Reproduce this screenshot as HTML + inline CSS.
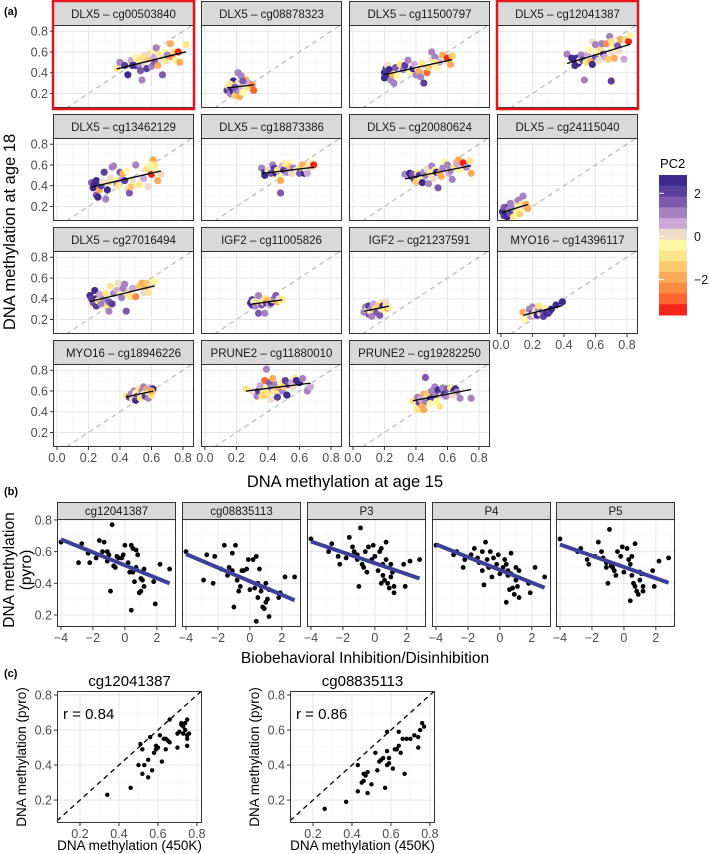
<!DOCTYPE html>
<html><head><meta charset="utf-8">
<style>
html,body{margin:0;padding:0;background:#fff;}
svg{display:block;font-family:"Liberation Sans",Arial,sans-serif;}
</style></head>
<body>
<svg id="fig" width="709" height="854" viewBox="0 0 709 854" xmlns="http://www.w3.org/2000/svg">
<text x="4" y="15" font-size="11" font-weight="bold">(a)</text>
<text x="4" y="495" font-size="11" font-weight="bold">(b)</text>
<text x="4" y="677" font-size="11" font-weight="bold">(c)</text>
<text transform="translate(15,232) rotate(-90)" text-anchor="middle" font-size="16.5" fill="#000">DNA methylation at age 18</text>
<text x="345" y="487" text-anchor="middle" font-size="16.5">DNA methylation at age 15</text>
<text transform="translate(14,570) rotate(-90)" text-anchor="middle" font-size="15.5">DNA methylation</text>
<text transform="translate(31,570) rotate(-90)" text-anchor="middle" font-size="15.5">(pyro)</text>
<text x="365" y="663" text-anchor="middle" font-size="15.5">Biobehavioral Inhibition/Disinhibition</text>
<text x="660" y="168" font-size="13">PC2</text>
</svg>
<script>
// ---------- Panel (a) data ----------
const aTitles = ["DLX5 – cg00503840","DLX5 – cg08878323","DLX5 – cg11500797","DLX5 – cg12041387","DLX5 – cg13462129","DLX5 – cg18873386","DLX5 – cg20080624","DLX5 – cg24115040","DLX5 – cg27016494","IGF2 – cg11005826","IGF2 – cg21237591","MYO16 – cg14396117","MYO16 – cg18946226","PRUNE2 – cg11880010","PRUNE2 – cg19282250"];
const aHighlighted = [true,false,false,true,false,false,false,false,false,false,false,false,false,false,false];
const aPoints = [
[[0.38,0.44,-1],[0.40,0.50,1],[0.43,0.47,2],[0.45,0.38,2.5],[0.47,0.52,0.5],[0.48,0.47,2.5],[0.50,0.47,2.5],[0.50,0.55,-0.5],[0.52,0.48,1],[0.53,0.42,1.5],[0.54,0.33,1],[0.55,0.56,-1],[0.55,0.50,0],[0.57,0.44,2],[0.58,0.53,-1.5],[0.60,0.60,-0.5],[0.60,0.46,1],[0.61,0.55,0.5],[0.62,0.50,1.5],[0.63,0.64,1],[0.64,0.47,-2],[0.65,0.58,-1],[0.66,0.54,0],[0.67,0.38,1.5],[0.68,0.60,-0.5],[0.69,0.52,-1],[0.70,0.57,1],[0.72,0.68,-2],[0.73,0.55,-2.5],[0.74,0.60,-1],[0.75,0.52,-0.5],[0.77,0.60,-4],[0.78,0.50,-2],[0.82,0.67,-1],[0.58,0.58,0],[0.52,0.52,-1]],
[[0.14,0.23,2],[0.15,0.27,0],[0.16,0.20,1],[0.17,0.25,2.5],[0.18,0.22,2.5],[0.18,0.32,2.5],[0.19,0.18,-1.5],[0.20,0.28,-1],[0.20,0.23,1],[0.21,0.30,0],[0.21,0.40,1],[0.22,0.17,-2],[0.22,0.25,0.5],[0.23,0.37,1],[0.24,0.21,-0.5],[0.25,0.28,0],[0.26,0.33,-2],[0.27,0.26,-1],[0.28,0.30,0.5],[0.29,0.25,-1],[0.30,0.28,-2.5],[0.31,0.23,-3],[0.16,0.29,-1],[0.19,0.26,1.5],[0.24,0.32,1.5]],
[[0.20,0.40,2.5],[0.20,0.35,2.5],[0.21,0.44,2],[0.22,0.38,2.5],[0.22,0.47,0],[0.23,0.43,2.5],[0.24,0.33,1],[0.25,0.38,-2],[0.26,0.30,1],[0.27,0.45,1.5],[0.28,0.37,-0.5],[0.30,0.48,-1],[0.32,0.43,1],[0.33,0.47,2],[0.35,0.52,1],[0.36,0.41,-0.5],[0.38,0.44,2.5],[0.39,0.48,0.5],[0.40,0.38,1],[0.41,0.44,0],[0.42,0.41,-2],[0.43,0.36,1],[0.44,0.49,-1],[0.45,0.30,2],[0.47,0.40,-3],[0.48,0.45,-1.5],[0.50,0.52,0],[0.50,0.60,1],[0.52,0.55,1],[0.53,0.45,-0.5],[0.55,0.50,0.5],[0.57,0.57,-2],[0.59,0.52,0],[0.60,0.54,-4],[0.62,0.48,-2],[0.63,0.56,-1.5],[0.52,0.50,-1]],
[[0.42,0.58,1],[0.45,0.54,2.5],[0.47,0.47,2.5],[0.48,0.54,2.5],[0.49,0.49,2.5],[0.50,0.52,0],[0.51,0.57,1],[0.52,0.52,2],[0.53,0.33,1],[0.54,0.50,-1],[0.55,0.58,0.5],[0.56,0.62,-0.5],[0.57,0.51,-2],[0.58,0.48,2.5],[0.58,0.70,0],[0.60,0.67,1],[0.60,0.55,1.5],[0.61,0.60,-0.5],[0.62,0.52,0],[0.63,0.62,-1],[0.64,0.68,1],[0.65,0.58,1.5],[0.66,0.55,0.5],[0.67,0.68,-2.5],[0.68,0.53,-1.5],[0.69,0.75,1],[0.70,0.60,0],[0.70,0.32,2],[0.71,0.64,-0.5],[0.72,0.54,-2],[0.74,0.66,1.5],[0.75,0.61,0],[0.76,0.72,-2],[0.78,0.53,0.5],[0.79,0.72,-1],[0.81,0.70,-4],[0.82,0.76,-0.5],[0.70,0.70,-1]],
[[0.22,0.43,1.5],[0.23,0.38,2.5],[0.24,0.42,2.5],[0.25,0.45,2.5],[0.25,0.31,1.5],[0.26,0.29,2.5],[0.27,0.36,-2],[0.28,0.40,2],[0.29,0.44,0],[0.30,0.53,2],[0.31,0.27,1],[0.32,0.36,2.5],[0.33,0.43,-1],[0.34,0.47,0],[0.35,0.58,1],[0.36,0.59,1],[0.37,0.45,-0.5],[0.38,0.42,1],[0.39,0.40,-1],[0.40,0.53,1.5],[0.41,0.46,0.5],[0.42,0.52,-2],[0.43,0.45,2],[0.44,0.54,-0.5],[0.45,0.36,0],[0.46,0.33,1.5],[0.47,0.39,-1.5],[0.48,0.46,0],[0.50,0.60,1],[0.52,0.41,-1],[0.55,0.47,0.5],[0.57,0.56,-1],[0.58,0.39,0],[0.60,0.51,-4],[0.61,0.65,-2],[0.62,0.60,-1],[0.63,0.54,-0.5],[0.64,0.45,-2],[0.66,0.51,0],[0.59,0.60,-0.5]],
[[0.36,0.57,1],[0.38,0.53,2.5],[0.38,0.50,2.5],[0.40,0.55,0],[0.42,0.52,1.5],[0.43,0.60,1],[0.44,0.57,2],[0.45,0.52,2.5],[0.46,0.55,-1],[0.47,0.48,-0.5],[0.48,0.45,-2],[0.48,0.33,1.5],[0.49,0.59,0.5],[0.50,0.55,2],[0.51,0.61,-1],[0.52,0.53,1],[0.53,0.62,-0.5],[0.54,0.58,-1.5],[0.55,0.52,0],[0.56,0.57,1],[0.58,0.55,-0.5],[0.60,0.52,1.5],[0.61,0.58,-1],[0.62,0.60,-2],[0.63,0.52,2.5],[0.64,0.56,-0.5],[0.66,0.60,-1],[0.67,0.58,0],[0.68,0.62,-0.5],[0.69,0.60,-4],[0.65,0.52,0.5]],
[[0.33,0.51,1],[0.36,0.52,2.5],[0.37,0.49,2.5],[0.38,0.51,1.5],[0.39,0.46,2],[0.40,0.44,-1.5],[0.41,0.52,-1],[0.42,0.50,2],[0.43,0.46,-0.5],[0.44,0.43,2.5],[0.45,0.53,1],[0.46,0.50,1],[0.47,0.56,0],[0.48,0.42,1],[0.49,0.52,-1],[0.50,0.59,1],[0.51,0.47,0],[0.52,0.55,-0.5],[0.53,0.53,2.5],[0.54,0.38,1.5],[0.55,0.52,-2],[0.56,0.49,-2],[0.57,0.57,1],[0.58,0.63,-0.5],[0.60,0.60,1],[0.61,0.52,0.5],[0.62,0.55,1],[0.63,0.46,1],[0.64,0.58,-1],[0.66,0.61,0.5],[0.67,0.65,-2],[0.68,0.55,-0.5],[0.70,0.62,-4],[0.72,0.58,1],[0.74,0.64,-1],[0.75,0.52,-2]],
[[0.01,0.15,2.5],[0.02,0.11,2],[0.02,0.19,1.5],[0.03,0.14,2.5],[0.04,0.10,2.5],[0.05,0.20,2],[0.05,0.17,1],[0.06,0.13,1.5],[0.07,0.22,-1],[0.07,0.15,2],[0.08,0.10,-1],[0.08,0.18,1],[0.09,0.24,0],[0.10,0.15,-1],[0.10,0.12,-0.5],[0.11,0.20,-0.5],[0.11,0.26,1],[0.12,0.13,-1.5],[0.13,0.18,-0.5],[0.13,0.22,-1],[0.14,0.30,1],[0.15,0.20,0],[0.16,0.22,-2],[0.17,0.18,-2],[0.06,0.23,1]],
[[0.21,0.43,2.5],[0.22,0.40,2],[0.23,0.36,1.5],[0.24,0.48,2.5],[0.25,0.40,2.5],[0.25,0.33,2],[0.26,0.38,-1],[0.27,0.44,0.5],[0.28,0.35,1],[0.30,0.40,1],[0.31,0.45,-1],[0.32,0.32,-1],[0.33,0.28,1],[0.33,0.37,1.5],[0.34,0.52,-1],[0.35,0.35,2],[0.36,0.45,1],[0.38,0.48,0.5],[0.39,0.55,0],[0.40,0.44,-0.5],[0.41,0.41,1],[0.42,0.50,1],[0.43,0.54,1],[0.44,0.28,1.5],[0.45,0.45,-1],[0.46,0.47,0],[0.47,0.42,-1],[0.48,0.50,0.5],[0.50,0.42,-2.5],[0.52,0.52,-1.5],[0.54,0.55,-2],[0.56,0.50,-2],[0.57,0.55,-1.5],[0.58,0.46,-1],[0.60,0.53,0],[0.62,0.57,-0.5],[0.55,0.46,0]],
[[0.29,0.36,2.5],[0.30,0.34,2.5],[0.30,0.39,2],[0.31,0.37,-0.5],[0.32,0.33,1],[0.33,0.38,0],[0.34,0.26,1.5],[0.34,0.43,1],[0.35,0.36,-1],[0.36,0.34,1.5],[0.37,0.37,-0.5],[0.38,0.26,1],[0.38,0.40,-1],[0.39,0.36,2],[0.40,0.38,-2],[0.41,0.34,0.5],[0.42,0.36,2.5],[0.43,0.39,-1],[0.44,0.40,1],[0.45,0.43,1.5],[0.46,0.37,-2],[0.47,0.40,0],[0.48,0.38,-0.5],[0.49,0.39,-1]],
[[0.07,0.27,1],[0.08,0.32,1],[0.09,0.29,0],[0.10,0.33,2],[0.10,0.25,1.5],[0.11,0.28,-0.5],[0.12,0.31,1],[0.12,0.23,1],[0.13,0.35,0.5],[0.14,0.30,-1],[0.15,0.27,1.5],[0.16,0.33,-1.5],[0.17,0.24,1.5],[0.18,0.30,0],[0.19,0.36,-1],[0.19,0.33,2.5],[0.20,0.29,-0.5],[0.21,0.34,-1],[0.22,0.31,-2],[0.23,0.32,-0.5],[0.21,0.37,0]],
[[0.14,0.27,-2],[0.15,0.22,-1],[0.15,0.20,-0.5],[0.17,0.26,0],[0.18,0.30,1],[0.19,0.23,0.5],[0.20,0.27,1.5],[0.20,0.32,1],[0.21,0.25,-0.5],[0.22,0.29,0],[0.23,0.24,2.5],[0.24,0.30,1],[0.25,0.26,0],[0.26,0.29,1.5],[0.27,0.23,2],[0.28,0.31,-0.5],[0.29,0.27,2.5],[0.30,0.26,2.5],[0.31,0.28,2],[0.32,0.30,2.5],[0.35,0.34,2.5],[0.39,0.37,2.5],[0.24,0.33,-1]],
[[0.44,0.55,-1],[0.46,0.54,2],[0.47,0.57,1],[0.48,0.52,0],[0.49,0.60,1],[0.50,0.51,2.5],[0.50,0.58,-0.5],[0.51,0.55,1.5],[0.52,0.62,-1],[0.53,0.56,0],[0.53,0.53,-1],[0.54,0.60,1],[0.55,0.57,-0.5],[0.55,0.64,1],[0.56,0.55,2],[0.57,0.62,-2],[0.58,0.58,0],[0.58,0.53,1],[0.59,0.63,0.5],[0.60,0.56,-1],[0.61,0.62,2.5],[0.60,0.60,-2]],
[[0.26,0.62,-1],[0.30,0.60,0],[0.33,0.55,1],[0.34,0.60,2],[0.35,0.65,0.5],[0.36,0.55,-1],[0.37,0.59,-1],[0.38,0.56,-1.5],[0.38,0.70,-3],[0.39,0.81,1],[0.39,0.62,-0.5],[0.40,0.58,-1],[0.41,0.68,1.5],[0.42,0.52,0],[0.42,0.63,1],[0.43,0.72,-2],[0.44,0.60,-1],[0.45,0.66,1],[0.46,0.54,2],[0.47,0.63,-2],[0.48,0.68,-0.5],[0.49,0.60,1],[0.50,0.64,-1.5],[0.51,0.70,2],[0.52,0.56,2.5],[0.53,0.66,1.5],[0.55,0.68,0.5],[0.57,0.72,-1],[0.58,0.70,2.5],[0.60,0.68,2.5],[0.62,0.72,1],[0.65,0.60,1],[0.67,0.64,0.5],[0.56,0.64,0]],
[[0.38,0.50,-1],[0.40,0.46,-0.5],[0.41,0.42,-1],[0.41,0.54,1],[0.42,0.49,2],[0.43,0.52,0.5],[0.44,0.46,-2],[0.45,0.42,-2],[0.45,0.57,-2],[0.46,0.50,1],[0.46,0.73,1.5],[0.47,0.55,0],[0.48,0.58,-1.5],[0.49,0.52,2.5],[0.49,0.48,-0.5],[0.50,0.60,1],[0.51,0.54,2],[0.52,0.58,1],[0.52,0.64,1],[0.53,0.50,-0.5],[0.54,0.61,2.5],[0.55,0.56,1.5],[0.55,0.45,-1],[0.56,0.55,0],[0.57,0.63,1],[0.58,0.57,2.5],[0.59,0.55,1],[0.60,0.62,1.5],[0.62,0.63,-1],[0.64,0.60,2.5],[0.65,0.62,2.5],[0.66,0.59,1],[0.68,0.53,1],[0.75,0.53,1],[0.63,0.56,0]]
];
const aTicks = [0.0,0.2,0.4,0.6,0.8];
const aTickLabels = ["0.0","0.2","0.4","0.6","0.8"];
const aYTicks = [0.2,0.4,0.6,0.8];
const aYTickLabels = ["0.2","0.4","0.6","0.8"];
const legendBreaks = [2,0,-2];
const legendLabels = ["2","0","−2"];
const legendSteps = [2.6,2.1,1.6,1.1,0.6,0.1,-0.4,-0.9,-1.4,-1.9,-2.4,-2.9,-3.4];

// ---------- Panel (b) data ----------
const bTitles = ["cg12041387","cg08835113","P3","P4","P5"];
const bX = [-4,-2.9,-2.7,-2.3,-2.2,-1.8,-1.6,-1.4,-1.3,-1.1,-1.1,-1.0,-0.9,-0.8,-0.7,-0.6,-0.5,-0.4,-0.2,-0.1,0.0,0.2,0.3,0.4,0.4,0.5,0.5,0.6,0.7,0.7,0.8,0.9,1.0,1.0,1.1,1.2,1.2,1.8,1.9,2.2,2.8];
const bY1 = [0.66,0.53,0.65,0.59,0.53,0.56,0.67,0.60,0.66,0.60,0.54,0.58,0.35,0.77,0.51,0.50,0.57,0.56,0.56,0.58,0.64,0.53,0.47,0.64,0.23,0.62,0.47,0.41,0.50,0.61,0.58,0.34,0.35,0.43,0.42,0.49,0.38,0.41,0.27,0.52,0.49];
const bY2 = [0.60,0.42,0.58,0.40,0.57,0.49,0.64,0.45,0.50,0.59,0.48,0.25,0.64,0.42,0.35,0.38,0.48,0.48,0.49,0.55,0.36,0.55,0.37,0.57,0.16,0.40,0.31,0.49,0.38,0.35,0.25,0.24,0.28,0.40,0.30,0.36,0.19,0.31,0.34,0.44,0.44];
const bY3 = [0.68,0.60,0.65,0.57,0.52,0.56,0.69,0.63,0.60,0.58,0.55,0.38,0.75,0.52,0.50,0.60,0.47,0.63,0.55,0.64,0.57,0.48,0.60,0.62,0.40,0.52,0.45,0.42,0.66,0.55,0.40,0.37,0.44,0.52,0.47,0.34,0.38,0.52,0.38,0.54,0.55];
const bY4 = [0.64,0.58,0.60,0.50,0.55,0.58,0.62,0.56,0.53,0.60,0.48,0.39,0.66,0.55,0.50,0.60,0.44,0.56,0.52,0.58,0.46,0.50,0.55,0.52,0.28,0.48,0.45,0.36,0.59,0.46,0.37,0.33,0.42,0.50,0.38,0.48,0.31,0.40,0.34,0.50,0.44];
const bY5 = [0.68,0.60,0.62,0.55,0.52,0.57,0.66,0.60,0.56,0.50,0.53,0.40,0.74,0.51,0.50,0.48,0.45,0.60,0.57,0.63,0.47,0.62,0.55,0.52,0.29,0.45,0.57,0.40,0.65,0.38,0.35,0.33,0.42,0.47,0.46,0.35,0.38,0.48,0.38,0.54,0.56];
const bXTicks = [-4,-2,0,2];
const bXTickLabels = ["−4","−2","0","2"];
const bYTicks = [0.2,0.4,0.6,0.8];
const bYTickLabels = ["0.2","0.4","0.6","0.8"];

// ---------- Panel (c) data ----------
const cTitles = ["cg12041387","cg08835113"];
const cRLabels = ["r = 0.84","r = 0.86"];
const cX1 = [0.34,0.46,0.50,0.51,0.52,0.52,0.53,0.55,0.55,0.56,0.57,0.58,0.59,0.59,0.60,0.61,0.62,0.63,0.64,0.64,0.65,0.66,0.66,0.70,0.70,0.71,0.72,0.72,0.73,0.73,0.74,0.74,0.75,0.75,0.75,0.76,0.75];
const cY1 = [0.23,0.27,0.40,0.52,0.49,0.35,0.40,0.43,0.33,0.56,0.37,0.47,0.51,0.49,0.50,0.57,0.42,0.55,0.49,0.55,0.54,0.66,0.53,0.58,0.50,0.59,0.63,0.64,0.58,0.62,0.64,0.60,0.66,0.57,0.51,0.58,0.55];
const cX2 = [0.26,0.37,0.43,0.43,0.45,0.46,0.46,0.47,0.48,0.48,0.50,0.52,0.53,0.54,0.55,0.56,0.57,0.58,0.58,0.58,0.59,0.59,0.61,0.62,0.63,0.64,0.64,0.65,0.66,0.67,0.68,0.70,0.72,0.74,0.74,0.75,0.76,0.77];
const cY2 = [0.15,0.19,0.25,0.40,0.30,0.35,0.31,0.34,0.24,0.36,0.29,0.47,0.37,0.42,0.43,0.44,0.27,0.40,0.48,0.59,0.41,0.44,0.38,0.49,0.49,0.59,0.51,0.47,0.55,0.35,0.55,0.55,0.57,0.56,0.50,0.60,0.64,0.62];
const cTicks = [0.2,0.4,0.6,0.8];
const cTickLabels = ["0.2","0.4","0.6","0.8"];

const svg = document.getElementById('fig');
const NS = "http://www.w3.org/2000/svg";
function mk(tag, attrs){ const e=document.createElementNS(NS,tag); for(const k in attrs) e.setAttribute(k,attrs[k]); svg.appendChild(e); return e; }
function pcColor(v){
  const cols=["#3f2b8e","#5a3f9c","#7d5aab","#a483c0","#cca8d6","#ecdcc8","#fff6a6","#fde58c","#fdcb6e","#fdab58","#fc8a44","#fb6630","#f8251a"];
  const th=[2.25,1.75,1.25,0.75,0.25,-0.25,-0.75,-1.25,-1.75,-2.25,-2.75,-3.25];
  for(let i=0;i<th.length;i++) if(v>=th[i]) return cols[i];
  return cols[12];
}
function fit(xs,ys){ const n=xs.length; let mx=0,my=0; for(let i=0;i<n;i++){mx+=xs[i];my+=ys[i];} mx/=n;my/=n; let sxy=0,sxx=0; for(let i=0;i<n;i++){sxy+=(xs[i]-mx)*(ys[i]-my);sxx+=(xs[i]-mx)**2;} const b=sxy/sxx; return [my-b*mx,b]; }

// ---------- draw (a) ----------
const aCols=[53,201,349,497], aRows=[1,114,227,340], aW=141, aStripH=24, aPlotH=83;
const aXmin=-0.025, aXmax=0.87, aYmin=0.06, aYmax=0.86;
aTitles.forEach((title,i)=>{
  const col=i%4,row=Math.floor(i/4);
  const L=aCols[col], T=aRows[row], PT=T+aStripH, PB=PT+aPlotH;
  const xs=v=>L+(v-aXmin)/(aXmax-aXmin)*aW;
  const ys=v=>PB-(v-aYmin)/(aYmax-aYmin)*aPlotH;
  const bg=mk('rect',{x:L,y:PT,width:aW,height:aPlotH,fill:'#fff'});
  
  
  for(let g=0.1;g<0.86;g+=0.1){
    const major=Math.abs(g*10%2)<0.01||Math.abs(g*10%2-2)<0.01;
    const vx=mk('line',{x1:xs(g),x2:xs(g),y1:PT,y2:PB,stroke:major?'#e6e6e6':'#f3f3f3','stroke-width':major?1:0.6});
    
    
    if(g>aYmin && g<aYmax){
      const hy=mk('line',{x1:L,x2:L+aW,y1:ys(g),y2:ys(g),stroke:major?'#e6e6e6':'#f3f3f3','stroke-width':major?1:0.6});
      
      
    }
  }
  const vx0=mk('line',{x1:xs(0),x2:xs(0),y1:PT,y2:PB,stroke:'#e6e6e6','stroke-width':1});
  
  
  const diag=mk('line',{x1:xs(aYmin),y1:ys(aYmin),x2:xs(aYmax),y2:ys(aYmax),stroke:'#b3b3b3','stroke-width':1.1,'stroke-dasharray':'5,4'});
  
  
  const pts=aPoints[i];
  pts.forEach(p=>{
    const c=mk('circle',{cx:xs(p[0]),cy:ys(p[1]),r:3.6,fill:pcColor(p[2])});
    
    
  });
  const px=pts.map(p=>p[0]), py=pts.map(p=>p[1]);
  const [a,b]=fit(px,py); const x0=Math.min(...px), x1=Math.max(...px);
  const ln=mk('line',{x1:xs(x0),y1:ys(a+b*x0),x2:xs(x1),y2:ys(a+b*x1),stroke:'#000','stroke-width':1.3});
  
  
  const strip=mk('rect',{x:L+0.5,y:T+0.5,width:aW-1,height:aStripH,fill:'#d9d9d9',stroke:'#333','stroke-width':1});
  
  
  const st=mk('text',{x:L+aW/2,y:T+17,'text-anchor':'middle','font-size':11.5,fill:'#1a1a1a'});
  st.textContent=title;
  
  
  const br=mk('rect',{x:L+0.5,y:PT+0.5,width:aW-1,height:aPlotH-1,fill:'none',stroke:'#333','stroke-width':1});
  
  
  if(aHighlighted[i]){
    const hl=mk('rect',{x:L,y:T,width:aW,height:aStripH+aPlotH+1,fill:'none',stroke:'#e8141a','stroke-width':2.5});
    
    
  }
  if(col===0){
    aYTicks.forEach((t,k)=>{
      const tk=mk('line',{x1:L-3,x2:L,y1:ys(t),y2:ys(t),stroke:'#333'});
      
      
      const tl=mk('text',{x:L-5,y:ys(t)+4.5,'text-anchor':'end','font-size':12.5,fill:'#4d4d4d'});
      tl.textContent=aYTickLabels[k];
      
      
    });
  }
  const last=(col===3&&row===2)||(row===3);
  if(last){
    aTicks.forEach((t,k)=>{
      const tk=mk('line',{x1:xs(t),x2:xs(t),y1:PB,y2:PB+3,stroke:'#333'});
      
      
      const tl=mk('text',{x:xs(t),y:PB+15,'text-anchor':'middle','font-size':12.5,fill:'#4d4d4d'});
      tl.textContent=aTickLabels[k];
      
      
    });
  }
});
// legend
const lgTop=175, lgBot=315, lgL=659, lgW=28, lgMax=2.85, lgMin=-3.65;
const lgY=v=>lgTop+(lgMax-v)/(lgMax-lgMin)*(lgBot-lgTop);
const stepH=(lgBot-lgTop)/legendSteps.length;
legendSteps.forEach((v,k)=>{
  const r=mk('rect',{x:lgL,y:lgTop+k*stepH,width:lgW,height:stepH+0.5,fill:pcColor(v)});
  
  
});
legendBreaks.forEach((v,k)=>{
  const t1=mk('line',{x1:lgL,x2:lgL+5,y1:lgY(v),y2:lgY(v),stroke:'#fff','stroke-width':1});
  
  
  const tl=mk('text',{x:lgL+lgW+7,y:lgY(v)+4.5,'font-size':12.5,fill:'#1a1a1a'});
  tl.textContent=legendLabels[k];
  
  
});

// ---------- draw (b) ----------
const bLefts=[57,182,307,432,556], bW=119, bStripT=502, bPT=519, bPB=627;
const bXmin=-4.25, bXmax=3.2, bYmin=0.124, bYmax=0.806;
const bYs=[bY1,bY2,bY3,bY4,bY5];
bTitles.forEach((title,i)=>{
  const L=bLefts[i];
  const xs=v=>L+(v-bXmin)/(bXmax-bXmin)*bW;
  const ys=v=>bPB-(v-bYmin)/(bYmax-bYmin)*(bPB-bPT);
  for(let g=-4;g<=3;g++){
    const gl=mk('line',{x1:xs(g),x2:xs(g),y1:bPT,y2:bPB,stroke:g%2===0?'#e6e6e6':'#f3f3f3','stroke-width':g%2===0?1:0.6});
    
    
  }
  for(let g=0.2;g<0.81;g+=0.1){
    const major=Math.round(g*10)%2===0;
    const gl=mk('line',{x1:L,x2:L+bW,y1:ys(g),y2:ys(g),stroke:major?'#e6e6e6':'#f3f3f3','stroke-width':major?1:0.6});
    
    
  }
  const yv=bYs[i];
  bX.forEach((x,k)=>{
    const c=mk('circle',{cx:xs(x),cy:ys(yv[k]),r:2.4,fill:'#000'});
    
    
  });
  const [a,b]=fit(bX,yv); const x0=Math.min(...bX), x1=Math.max(...bX);
  const ln=mk('line',{x1:xs(x0),y1:ys(a+b*x0),x2:xs(x1),y2:ys(a+b*x1),stroke:'#3f3f99','stroke-width':4});
  
  
  const strip=mk('rect',{x:L+0.5,y:bStripT+0.5,width:bW-1,height:bPT-bStripT,fill:'#d9d9d9',stroke:'#333','stroke-width':1});
  
  
  const st=mk('text',{x:L+bW/2,y:bStripT+13,'text-anchor':'middle','font-size':11.5,fill:'#1a1a1a'});
  st.textContent=title;
  
  
  const br=mk('rect',{x:L+0.5,y:bPT+0.5,width:bW-1,height:bPB-bPT-1,fill:'none',stroke:'#333','stroke-width':1});
  
  
  bXTicks.forEach((t,k)=>{
    const tk=mk('line',{x1:xs(t),x2:xs(t),y1:bPB,y2:bPB+3,stroke:'#333'});
    
    
    const tl=mk('text',{x:xs(t),y:bPB+15,'text-anchor':'middle','font-size':12.5,fill:'#4d4d4d'});
    tl.textContent=bXTickLabels[k];
    
    
  });
  if(i===0){
    bYTicks.forEach((t,k)=>{
      const tk=mk('line',{x1:L-3,x2:L,y1:ys(t),y2:ys(t),stroke:'#333'});
      
      
      const tl=mk('text',{x:L-5,y:ys(t)+4.5,'text-anchor':'end','font-size':12.5,fill:'#4d4d4d'});
      tl.textContent=bYTickLabels[k];
      
      
    });
  }
});

// ---------- draw (c) ----------
const cLefts=[57,290], cW=145, cPT=691, cPB=823;
const cXmin=0.082, cXmax=0.826, cYmin=0.069, cYmax=0.823;
const cXs=[cX1,cX2], cYs=[cY1,cY2];
cTitles.forEach((title,i)=>{
  const L=cLefts[i];
  const xs=v=>L+(v-cXmin)/(cXmax-cXmin)*cW;
  const ys=v=>cPB-(v-cYmin)/(cYmax-cYmin)*(cPB-cPT);
  for(let g=0.1;g<0.82;g+=0.1){
    const major=Math.round(g*10)%2===0;
    const col=major?'#e6e6e6':'#f3f3f3', sw=major?1:0.6;
    if(g>cXmin){
      const gx=mk('line',{x1:xs(g),x2:xs(g),y1:cPT,y2:cPB,stroke:col,'stroke-width':sw});
      
      
    }
    if(g>cYmin){
      const gy=mk('line',{x1:L,x2:L+cW,y1:ys(g),y2:ys(g),stroke:col,'stroke-width':sw});
      
      
    }
  }
  const d=mk('line',{x1:xs(cXmin),y1:ys(cXmin),x2:xs(cYmax),y2:ys(cYmax),stroke:'#000','stroke-width':1.3,'stroke-dasharray':'5,4'});
  
  
  cXs[i].forEach((x,k)=>{
    const c=mk('circle',{cx:xs(x),cy:ys(cYs[i][k]),r:2.2,fill:'#000'});
    
    
  });
  const br=mk('rect',{x:L+0.5,y:cPT+0.5,width:cW-1,height:cPB-cPT-1,fill:'none',stroke:'#333','stroke-width':1});
  
  
  const tt=mk('text',{x:L+cW/2,y:cPT-5,'text-anchor':'middle','font-size':15});
  tt.textContent=title;
  
  
  const rt=mk('text',{x:L+6,y:cPT+28,'font-size':15});
  rt.textContent=cRLabels[i];
  
  
  cTicks.forEach((t,k)=>{
    const tk=mk('line',{x1:xs(t),x2:xs(t),y1:cPB,y2:cPB+3,stroke:'#333'});
    
    
    const tl=mk('text',{x:xs(t),y:cPB+15,'text-anchor':'middle','font-size':12.5,fill:'#4d4d4d'});
    tl.textContent=cTickLabels[k];
    
    
    const ty=mk('line',{x1:L-3,x2:L,y1:ys(t),y2:ys(t),stroke:'#333'});
    
    
    const yl=mk('text',{x:L-5,y:ys(t)+4.5,'text-anchor':'end','font-size':12.5,fill:'#4d4d4d'});
    yl.textContent=cTickLabels[k];
    
    
  });
  const xt=mk('text',{x:L+cW/2,y:850,'text-anchor':'middle','font-size':13.5});
  xt.textContent='DNA methylation (450K)';
  
  
  const yt=mk('text',{transform:`translate(${L-31},${(cPT+cPB)/2}) rotate(-90)`,'text-anchor':'middle','font-size':13.5});
  yt.textContent='DNA methylation (pyro)';
  
  
});
</script>
</body></html>
